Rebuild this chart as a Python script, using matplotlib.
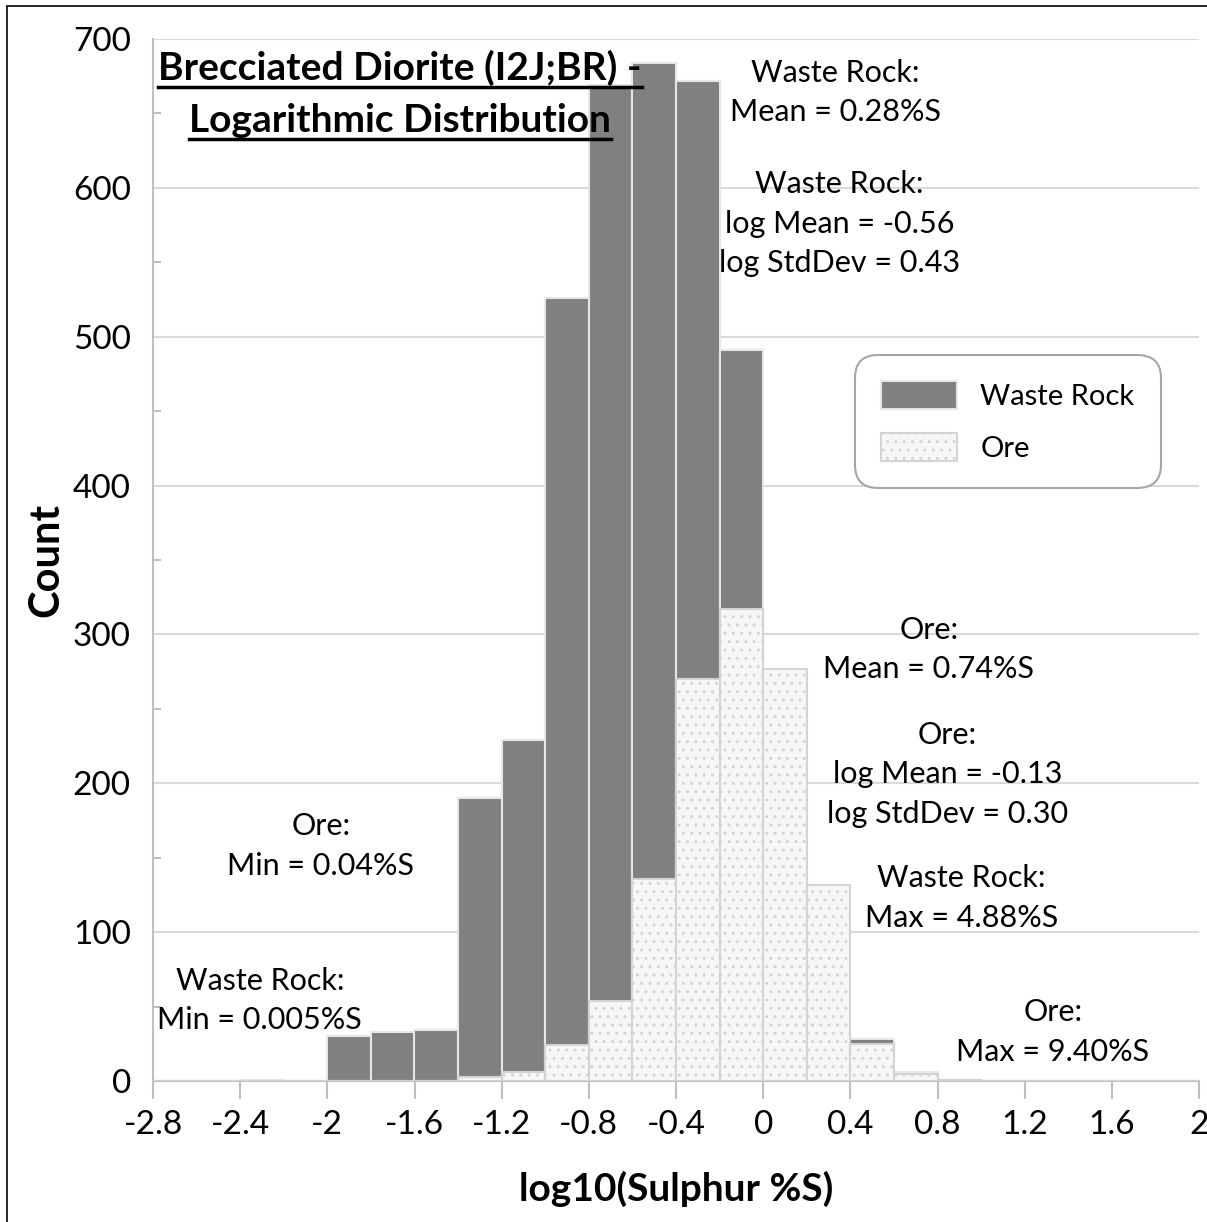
import matplotlib.pyplot as plt
from matplotlib.patches import Rectangle
from matplotlib.lines import Line2D
from matplotlib.ticker import MultipleLocator

plt.rcParams['font.family'] = ['Lato', 'DejaVu Sans']
plt.rcParams['hatch.linewidth'] = 1.0

# histogram bins of log10(S%), width 0.2, left edges
bin_left = [-2.8, -2.6, -2.4, -2.2, -2.0, -1.8, -1.6, -1.4, -1.2, -1.0, -0.8, -0.6,
            -0.4, -0.2, 0.0, 0.2, 0.4, 0.6, 0.8, 1.0, 1.2, 1.4, 1.6, 1.8]
waste = [0, 0, 1, 0, 30, 33, 34, 190, 229, 526, 669, 684,
         672, 491, 230, 95, 28, 6, 0, 0, 0, 0, 0, 0]
ore = [0, 0, 0, 0, 0, 0, 0, 3, 6, 24, 54, 136,
       270, 317, 277, 132, 25, 5, 1, 0, 0, 0, 0, 0]
bin_width = 0.2

# statistics notes: (x, y, text)
notes = [
    (0.33, 664, "Waste Rock:\nMean = 0.28%S"),
    (0.35, 576, "Waste Rock:\nlog Mean = -0.56\nlog StdDev = 0.43"),
    (0.76, 290, "Ore:\nMean = 0.74%S"),
    (0.845, 206, "Ore:\nlog Mean = -0.13\nlog StdDev = 0.30"),
    (0.91, 123, "Waste Rock:\nMax = 4.88%S"),
    (1.33, 33, "Ore:\nMax = 9.40%S"),
    (-2.03, 158, "Ore:\nMin = 0.04%S"),
    (-2.31, 54, "Waste Rock:\nMin = 0.005%S"),
]

fig = plt.figure(figsize=(12.07, 12.22), dpi=100)
ax = fig.add_axes([153 / 1207, 1 - 1081 / 1222, 1046 / 1207, 1042 / 1222])

ax.bar(bin_left, waste, width=bin_width, align='edge', color='#808080',
       edgecolor='#e6e6e6', linewidth=1.5, label='Waste Rock', zorder=2)
ax.bar(bin_left, ore, width=bin_width, align='edge', color='#f7f7f7',
       edgecolor='#d4d4d4', linewidth=1.5, hatch='..', label='Ore', zorder=3)

ax.set_xlim(-2.8, 2.0)
ax.set_ylim(0, 700)
ax.yaxis.set_major_locator(MultipleLocator(100))
ax.yaxis.set_minor_locator(MultipleLocator(50))
ax.set_xticks([-2.8 + 0.4 * i for i in range(13)])
ax.set_xticklabels(['-2.8', '-2.4', '-2', '-1.6', '-1.2', '-0.8', '-0.4', '0',
                    '0.4', '0.8', '1.2', '1.6', '2'])

ax.grid(axis='y', color='#d9d9d9', linewidth=1.5, zorder=0)
ax.set_axisbelow(True)
for side in ['top', 'right']:
    ax.spines[side].set_visible(False)
for side in ['left', 'bottom']:
    ax.spines[side].set_color('#bfbfbf')
    ax.spines[side].set_linewidth(1.5)

ax.tick_params(axis='x', which='major', direction='out', length=13, width=1.5,
               color='#bfbfbf', labelsize=24, pad=8)
ax.tick_params(axis='y', which='major', length=0, labelsize=24, pad=16)
ax.tick_params(axis='y', which='minor', direction='in', length=6, width=1.5,
               color='#bfbfbf')

ax.set_xlabel('log10(Sulphur %S)', fontsize=28, fontweight='bold', labelpad=22)
ax.set_ylabel('Count', fontsize=30, fontweight='bold', labelpad=5)

for x, y, s in notes:
    ax.text(x, y, s, ha='center', va='center', fontsize=22,
            linespacing=1.5, zorder=5)

leg = ax.legend(loc='upper left', bbox_to_anchor=(0.671, 0.697), fontsize=21,
                frameon=True, fancybox=True, edgecolor='#a6a6a6',
                handlelength=2.6, handleheight=1.1, borderpad=0.9,
                labelspacing=0.8, handletextpad=0.8, borderaxespad=0)
leg.get_frame().set_linewidth(1.5)
leg.get_frame().set_alpha(1)
leg.get_frame().set_boxstyle('round', pad=0, rounding_size=0.8)

# two-line underlined title inside the plot area
t1 = fig.text(400 / 1207, 1 - 68 / 1222, 'Brecciated Diorite (I2J;BR) -',
              ha='center', va='center', fontsize=28, fontweight='bold', zorder=6)
t2 = fig.text(400 / 1207, 1 - 120 / 1222, 'Logarithmic Distribution',
              ha='center', va='center', fontsize=28, fontweight='bold', zorder=6)
fig.canvas.draw()
rend = fig.canvas.get_renderer()
for t in (t1, t2):
    bb = t.get_window_extent(rend)
    yy = (bb.y0 - 1) / fig.bbox.height
    fig.add_artist(Line2D([bb.x0 / fig.bbox.width, bb.x1 / fig.bbox.width], [yy, yy],
                          color='black', linewidth=2.5))

# thin outer frame
fig.add_artist(Rectangle((7 / 1207, -0.01), 1.1, 1 - 6 / 1222 + 0.01,
                         transform=fig.transFigure, fill=False,
                         edgecolor='black', linewidth=1.2))

fig.savefig('out.png', dpi=100)
